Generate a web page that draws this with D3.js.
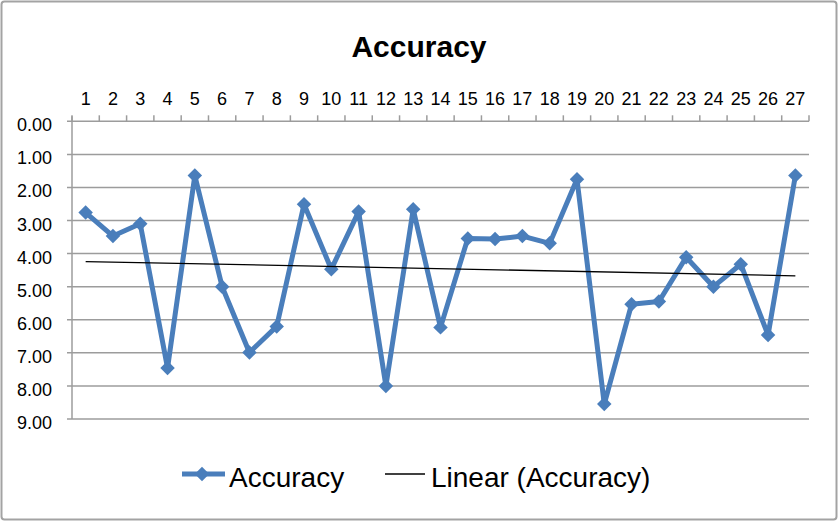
<!DOCTYPE html>
<html>
<head>
<meta charset="utf-8">
<script src="https://cdn.jsdelivr.net/npm/d3@7"></script>
<style>
  body { margin: 0; background: #fff; }
  text { font-family: "Liberation Sans", Arial, sans-serif; fill: #000; }
</style>
</head>
<body>
<div id="chart"></div>
<script>
// chart data
const categories = d3.range(1, 28).map(String);
const accuracy = [2.76, 3.47, 3.10, 7.46, 1.64, 5.00, 6.99, 6.20, 2.51, 4.47,
  2.73, 8.00, 2.66, 6.23, 3.54, 3.56, 3.47, 3.69, 1.75, 8.55,
  5.53, 5.45, 4.11, 5.00, 4.32, 6.46, 1.64];
const yTicks = [0, 1, 2, 3, 4, 5, 6, 7, 8, 9];
const seriesName = "Accuracy";
const trendName = "Linear (Accuracy)";

var width = 838, height = 521;
var plotLeft = 72, plotRight = 809, plotTop = 121.3, plotBottom = 419;
var blue = "#4a7ebb", gridCol = "#9c9c9c";

var svg = d3.select("#chart").append("svg")
  .attr("width", width)
  .attr("height", height);

// outer chart frame
svg.append("rect")
  .attr("x", 1.5).attr("y", 1.5)
  .attr("width", width - 3).attr("height", height - 3)
  .attr("rx", 3)
  .attr("fill", "#fff")
  .attr("stroke", "#a3a3a3")
  .attr("stroke-width", 2);

var x = d3.scaleBand().domain(categories).range([plotLeft, plotRight]);
var y = d3.scaleLinear().domain([0, 9]).range([plotTop, plotBottom]);

// horizontal gridlines + left ticks
svg.append("g").selectAll("line")
  .data(yTicks)
  .enter().append("line")
  .attr("x1", plotLeft - 5).attr("x2", plotRight)
  .attr("y1", d => y(d)).attr("y2", d => y(d))
  .attr("stroke", gridCol)
  .attr("stroke-width", 1.5);

// vertical axis line
svg.append("line")
  .attr("x1", plotLeft).attr("x2", plotLeft)
  .attr("y1", plotTop - 5).attr("y2", plotBottom)
  .attr("stroke", gridCol).attr("stroke-width", 1.5);

// top axis ticks at category boundaries
var bounds = categories.map(c => x(c)).concat([plotRight]);
svg.append("g").selectAll("line")
  .data(bounds)
  .enter().append("line")
  .attr("x1", d => d).attr("x2", d => d)
  .attr("y1", plotTop - 6).attr("y2", plotTop)
  .attr("stroke", gridCol).attr("stroke-width", 1.5);

// y labels
svg.append("g").selectAll("text")
  .data(yTicks)
  .enter().append("text")
  .attr("x", 52)
  .attr("y", d => y(d) + 10)
  .attr("text-anchor", "end")
  .style("font-size", "18px")
  .text(d => d3.format(".2f")(d));

// x labels on top
svg.append("g").selectAll("text")
  .data(categories)
  .enter().append("text")
  .attr("x", d => x(d) + x.bandwidth() / 2)
  .attr("y", 105)
  .attr("text-anchor", "middle")
  .style("font-size", "18px")
  .text(d => d);

// title
svg.append("text")
  .attr("x", 419).attr("y", 57)
  .attr("text-anchor", "middle")
  .style("font-size", "30px")
  .style("font-weight", "bold")
  .text("Accuracy");

var cx = (d, i) => x(categories[i]) + x.bandwidth() / 2;

// least squares trend
var n = accuracy.length;
var xs = d3.range(1, n + 1);
var mx = d3.mean(xs), my = d3.mean(accuracy);
var slope = d3.sum(xs, (v, i) => (v - mx) * (accuracy[i] - my)) / d3.sum(xs, v => (v - mx) * (v - mx));
var icpt = my - slope * mx;

// series line
var line = d3.line()
  .x(cx)
  .y(d => y(d));

svg.append("path")
  .datum(accuracy)
  .attr("fill", "none")
  .attr("stroke", blue)
  .attr("stroke-width", 5)
  .attr("stroke-linejoin", "round")
  .attr("d", line);

var diamond = d3.symbol().type(d3.symbolSquare).size(105);

svg.append("g").selectAll("path")
  .data(accuracy)
  .enter().append("path")
  .attr("d", diamond)
  .attr("fill", blue)
  .attr("transform", (d, i) => "translate(" + cx(d, i) + "," + y(d) + ")rotate(45)");

// trend line on top
svg.append("line")
  .attr("x1", cx(null, 0)).attr("x2", cx(null, n - 1))
  .attr("y1", y(icpt + slope * 1)).attr("y2", y(icpt + slope * n))
  .attr("stroke", "#000")
  .attr("stroke-width", 1.3);

// legend
var ly = 474;
svg.append("line")
  .attr("x1", 182).attr("x2", 225)
  .attr("y1", ly).attr("y2", ly)
  .attr("stroke", blue).attr("stroke-width", 5);
svg.append("path")
  .attr("d", diamond)
  .attr("fill", blue)
  .attr("transform", "translate(202," + ly + ")rotate(45)");
svg.append("text")
  .attr("x", 229).attr("y", 487)
  .style("font-size", "28px")
  .text(seriesName);

svg.append("line")
  .attr("x1", 385).attr("x2", 425)
  .attr("y1", ly).attr("y2", ly)
  .attr("stroke", "#000").attr("stroke-width", 1.3);
svg.append("text")
  .attr("x", 431).attr("y", 487)
  .style("font-size", "28px")
  .text(trendName);
</script>
</body>
</html>
